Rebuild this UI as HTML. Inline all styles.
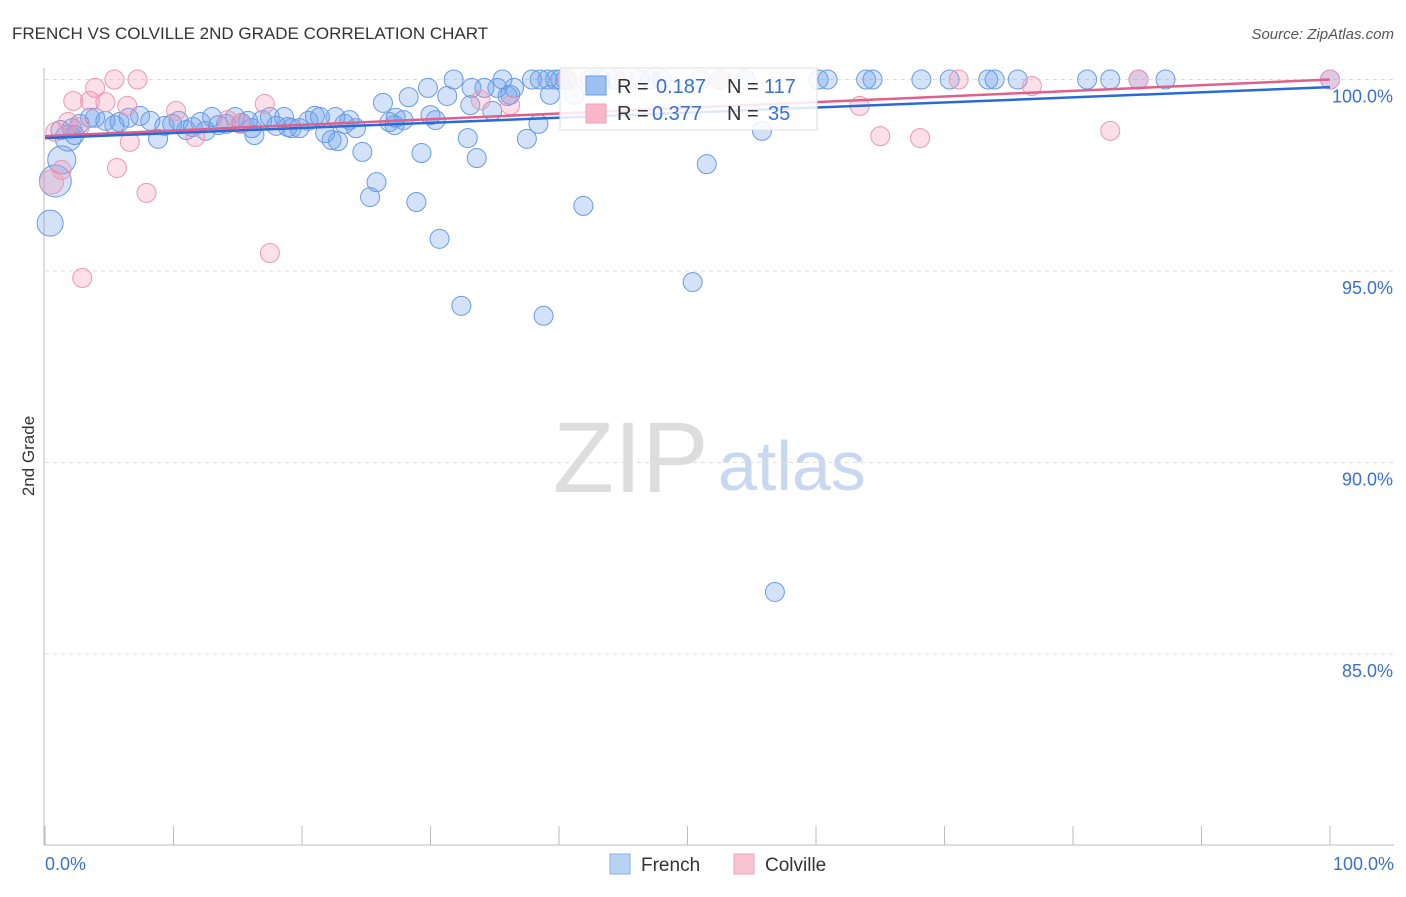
<!DOCTYPE html>
<html><head><meta charset="utf-8"><style>
body{margin:0;background:#fff;font-family:"Liberation Sans",sans-serif}
svg text{font-family:"Liberation Sans",sans-serif}
</style></head><body>
<svg id="c" width="1406" height="892" xmlns="http://www.w3.org/2000/svg">
<text x="12" y="39" font-size="17" fill="#333">FRENCH VS COLVILLE 2ND GRADE CORRELATION CHART</text>
<text x="1394" y="39" font-size="15" fill="#555" font-style="italic" text-anchor="end">Source: ZipAtlas.com</text>
<text x="34" y="456" font-size="17" fill="#333" transform="rotate(-90 34 456)" text-anchor="middle">2nd Grade</text>
<text x="553" y="492" font-size="100" fill="#ddd" font-family="Liberation Serif">ZIP</text>
<text x="718" y="490" font-size="70" fill="#c8d8f0">atlas</text>
<g id="grid"></g><g id="axes"></g><g id="pts"></g><g id="trend"></g>
<g>
<rect x="560" y="68" width="257" height="62" fill="#fff" fill-opacity="0.85" stroke="#ddd"/>
<rect x="586" y="76" width="20" height="19" fill="#9cc0f0" stroke="#6a9be0"/>
<text x="617" y="93" font-size="20" fill="#333">R =</text>
<text x="656" y="93" font-size="20" fill="#3a70d0">0.187</text>
<text x="727" y="93" font-size="20" fill="#333">N =</text>
<text x="764" y="93" font-size="20" fill="#3a70d0">117</text>
<rect x="586" y="104" width="20" height="19" fill="#f8b8cc" stroke="#f0a0b8"/>
<text x="617" y="120" font-size="20" fill="#333">R =</text>
<text x="652" y="120" font-size="20" fill="#3a70d0">0.377</text>
<text x="727" y="120" font-size="20" fill="#333">N =</text>
<text x="768" y="120" font-size="20" fill="#3a70d0">35</text>
</g>
<g>
<rect x="610" y="854" width="20" height="20" fill="#b8d2f4" stroke="#8ab0e8"/>
<text x="641" y="871" font-size="19" fill="#333">French</text>
<rect x="734" y="854" width="20" height="20" fill="#f8c4d4" stroke="#f0a0b8"/>
<text x="765" y="871" font-size="19" fill="#333">Colville</text>
</g>
</svg>
<script>
const yTicks=[100,95,90,85];
const yTickLabels=["100.0%","95.0%","90.0%","85.0%"];
const xTickLabels=["0.0%","100.0%"];
const frenchX=[0.4,0.8,1.3,1.8,2.1,2.7,3.5,3.9,4.7,5.4,5.8,6.5,7.4,8.2,8.8,9.3,9.9,10.4,11.0,11.5,12.1,12.5,13.0,13.5,14.1,14.8,15.3,15.8,16.3,16.9,17.5,18.0,18.6,19.2,19.8,20.5,21.0,21.4,21.8,22.3,22.8,23.3,23.7,24.2,24.7,25.3,25.8,26.3,26.8,27.3,27.9,28.3,28.9,29.3,29.8,30.4,30.7,31.3,31.8,32.4,32.9,33.2,33.6,34.2,34.8,35.2,35.6,36.0,36.5,37.5,37.9,38.4,38.8,39.1,39.7,40.5,41.2,41.9,43.2,44.4,46.3,47.1,48.0,50.4,51.5,52.5,54.5,55.8,56.8,60.2,60.9,63.9,64.4,68.2,70.4,73.4,73.9,75.7,81.1,82.9,85.1,87.2,100,40.1,42.4,43.2,51.0,38.5,39.3,33.1,30.0,22.6,16.1,18.9,27.2,36.2,1.2,2.3];
const frenchY=[96.25,97.35,97.9,98.47,98.73,98.84,99.0,99.0,98.92,98.81,98.89,99.0,99.05,98.92,98.45,98.79,98.84,98.92,98.68,98.76,98.89,98.66,99.02,98.81,98.84,99.02,98.86,98.92,98.55,98.94,99.02,98.79,99.02,98.73,98.73,98.92,99.05,99.02,98.6,98.42,98.39,98.84,98.94,98.73,98.11,96.93,97.32,99.39,98.89,99.0,98.94,99.54,96.8,98.08,99.78,98.94,95.84,99.57,100,94.09,98.47,99.78,97.95,99.78,99.18,99.78,100,99.57,99.78,98.45,100,98.84,93.83,100,100,100,99.6,96.7,100,100,100,100,100,94.71,97.79,100,100,98.66,86.62,100,100,100,100,100,100,100,100,100,100,100,100,100,100,100,100,99.86,100,100,99.6,99.33,99.07,99.02,98.73,98.76,98.81,99.6,98.68,98.55];
const frenchR=[13,16,14,13];
const colvilleX=[0.5,0.8,1.8,2.7,2.2,3.9,5.4,7.2,4.7,3.5,6.4,6.6,5.6,7.9,2.9,10.2,11.7,14.2,17.1,17.5,15.2,33.9,36.2,40.7,45.1,52.5,63.4,65.0,68.1,71.1,76.8,82.9,85.1,100,1.3];
const colvilleY=[97.32,98.63,98.89,98.76,99.44,99.78,100,100,99.41,99.44,99.31,98.37,97.69,97.04,94.82,99.18,98.5,98.94,99.36,95.47,98.84,99.46,99.33,100,100,100,99.31,98.52,98.47,100,99.83,98.66,100,100,97.64];
const colvilleR=[12];
const frenchTrend=[98.47,99.8];
const colvilleTrend=[98.52,100];
const NS="http://www.w3.org/2000/svg";
const sx=v=>45+v*12.85, sy=v=>79.5+(100-v)*38.3;
function mk(tag,attrs,parent){const e=document.createElementNS(NS,tag);for(const k in attrs)e.setAttribute(k,attrs[k]);document.getElementById(parent).appendChild(e);return e;}
yTicks.forEach((t,i)=>{
 const g=mk('line',{x1:45,x2:1394,y1:sy(t),y2:sy(t),stroke:'#ddd','stroke-dasharray':'4 4'},'grid');
 
 
 const l=mk('text',{x:1393,y:sy(t)+23,'font-size':18,fill:'#3a70d0','text-anchor':'end'},'grid');l.textContent=yTickLabels[i];
 
 
});
const ax=mk('line',{x1:44,x2:44,y1:68,y2:845,stroke:'#bbb'},'axes');


const bx=mk('line',{x1:44,x2:1394,y1:845,y2:845,stroke:'#bbb'},'axes');


for(let i=0;i<=10;i++){const t=mk('line',{x1:sx(i*10),x2:sx(i*10),y1:826,y2:845,stroke:'#bbb'},'axes');
 
 }
[[0,'start',45],[100,'end',1394]].forEach((d,i)=>{const t=mk('text',{x:d[2],y:870,'font-size':18,fill:'#3a70d0','text-anchor':d[1]},'axes');t.textContent=xTickLabels[i];
 
 });
frenchX.forEach((x,i)=>{const c=mk('circle',{cx:sx(x),cy:sy(frenchY[i]),r:frenchR[i]||9.5,fill:'rgba(110,160,235,0.3)',stroke:'#6a9be0','stroke-width':1},'pts');
 
 });
colvilleX.forEach((x,i)=>{const c=mk('circle',{cx:sx(x),cy:sy(colvilleY[i]),r:colvilleR[i]||9.5,fill:'rgba(245,150,180,0.3)',stroke:'#eb98b3','stroke-width':1},'pts');
 
 });
const t1=mk('line',{x1:sx(0),x2:sx(100),y1:sy(colvilleTrend[0]),y2:sy(colvilleTrend[1]),stroke:'#e0608a','stroke-width':2.5},'trend');


const t2=mk('line',{x1:sx(0),x2:sx(100),y1:sy(frenchTrend[0]),y2:sy(frenchTrend[1]),stroke:'#2a6ad8','stroke-width':2.5},'trend');


</script>
</body></html>
